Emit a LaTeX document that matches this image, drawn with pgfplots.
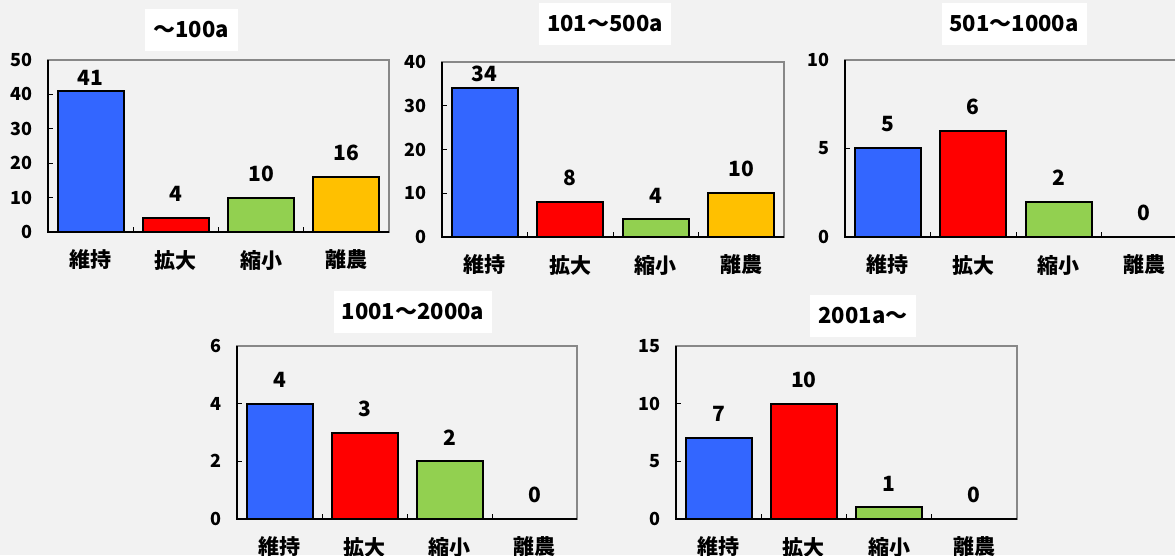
\documentclass[border=0pt]{standalone}
\usepackage{pgfplots}
\pgfplotsset{compat=1.18}
\usepackage{fontspec}
\setmainfont{Noto Sans CJK JP}
\definecolor{bg}{HTML}{F2F2F2}
\definecolor{frame}{HTML}{888888}
\definecolor{cblue}{HTML}{3366FF}
\definecolor{cred}{HTML}{FF0000}
\definecolor{cgreen}{HTML}{92D050}
\definecolor{corange}{HTML}{FFC000}
\newcommand\tickfont{\bfseries\fontsize{18}{20}\selectfont}
\newcommand\catfont{\bfseries\fontsize{21}{23}\selectfont}
\newcommand\valfont{\bfseries\fontsize{21}{23}\selectfont}
\newcommand\ttlfont{\bfseries\fontsize{22}{26}\selectfont}
\pgfplotsset{
  minichart/.style={
    ybar, scale only axis, width=341pt, height=172pt,
    anchor=south west,
    xmin=-0.5, xmax=3.5, ymin=0,
    axis line style={draw=frame, line width=1.3pt},
    xtick={0.5,1.5,2.5}, xticklabels={},
    extra x ticks={0,1,2,3},
    extra x tick labels={維持,拡大,縮小,離農},
    extra x tick style={tick style={draw=none}},
    tick pos=left, tick align=inside, major tick length=5pt,
    tick style={black, line width=1pt},
    yticklabel style={font=\tickfont, anchor=east, inner sep=0pt, xshift=-15pt},
    xticklabel style={font=\catfont, anchor=center, inner sep=0pt, yshift=-28pt},
    bar width=66pt, bar shift=0pt,
    nodes near coords,
    every node near coord/.append style={font=\valfont, anchor=center, yshift=24pt, black},
    clip=false,
    /pgf/number format/assume math mode=true,
  },
  bars/.style={draw=black, line width=2pt, fill=#1},
}
\newcommand\leftbottom{\draw[black, line width=1.5pt] (rel axis cs:0,1) -- (rel axis cs:0,0) -- (rel axis cs:1,0);}
\begin{document}
\begin{tikzpicture}
\fill[bg] (0,0) rectangle (1175pt,555pt);
\useasboundingbox (0,0) rectangle (1175pt,555pt);
\clip (0,0) rectangle (1175pt,555pt);

% ~100a
\begin{axis}[minichart, at={(48pt,323pt)}, width=341pt, height=172pt,
  ymax=50, ytick={0,10,...,50}]
\addplot[bars=cblue, every node near coord/.append style={yshift=-11pt}] coordinates {(0,41)};
\addplot[bars=cred] coordinates {(1,4)};
\addplot[bars=cgreen] coordinates {(2,10)};
\addplot[bars=corange] coordinates {(3,16)};
\leftbottom
\end{axis}

% 101~500a
\begin{axis}[minichart, at={(442pt,318pt)}, width=342pt, height=175pt,
  ymax=40, ytick={0,10,...,40}]
\addplot[bars=cblue, every node near coord/.append style={yshift=-10pt}] coordinates {(0,34)};
\addplot[bars=cred] coordinates {(1,8)};
\addplot[bars=cgreen] coordinates {(2,4)};
\addplot[bars=corange] coordinates {(3,10)};
\leftbottom
\end{axis}

% 501~1000a
\begin{axis}[minichart, at={(845pt,318pt)}, width=342pt, height=177pt,
  ymax=10, ytick={0,5,10}]
\addplot[bars=cblue] coordinates {(0,5)};
\addplot[bars=cred] coordinates {(1,6)};
\addplot[bars=cgreen] coordinates {(2,2)};
\addplot[draw=none, fill=none] coordinates {(3,0)};
\leftbottom
\end{axis}

% 1001~2000a
\begin{axis}[minichart, at={(237pt,36pt)}, width=340pt, height=173pt,
  ymax=6, ytick={0,2,4,6}]
\addplot[bars=cblue] coordinates {(0,4)};
\addplot[bars=cred] coordinates {(1,3)};
\addplot[bars=cgreen] coordinates {(2,2)};
\addplot[draw=none, fill=none] coordinates {(3,0)};
\leftbottom
\end{axis}

% 2001a~
\begin{axis}[minichart, at={(676pt,36pt)}, width=341pt, height=173pt,
  ymax=15, ytick={0,5,10,15}]
\addplot[bars=cblue] coordinates {(0,7)};
\addplot[bars=cred] coordinates {(1,10)};
\addplot[bars=cgreen] coordinates {(2,1)};
\addplot[draw=none, fill=none] coordinates {(3,0)};
\leftbottom
\end{axis}

\tikzset{ttl/.style={fill=white, font=\ttlfont, minimum height=42pt, inner sep=0pt}}
\node[ttl, minimum width=93pt] at (191pt,525pt) {～100a};
\node[ttl, minimum width=132pt] at (605pt,531pt) {101～500a};
\node[ttl, minimum width=145pt] at (1014pt,531pt) {501～1000a};
\node[ttl, minimum width=158pt] at (413pt,243pt) {1001～2000a};
\node[ttl, minimum width=106pt] at (863pt,239pt) {2001a～};
\end{tikzpicture}
\end{document}
